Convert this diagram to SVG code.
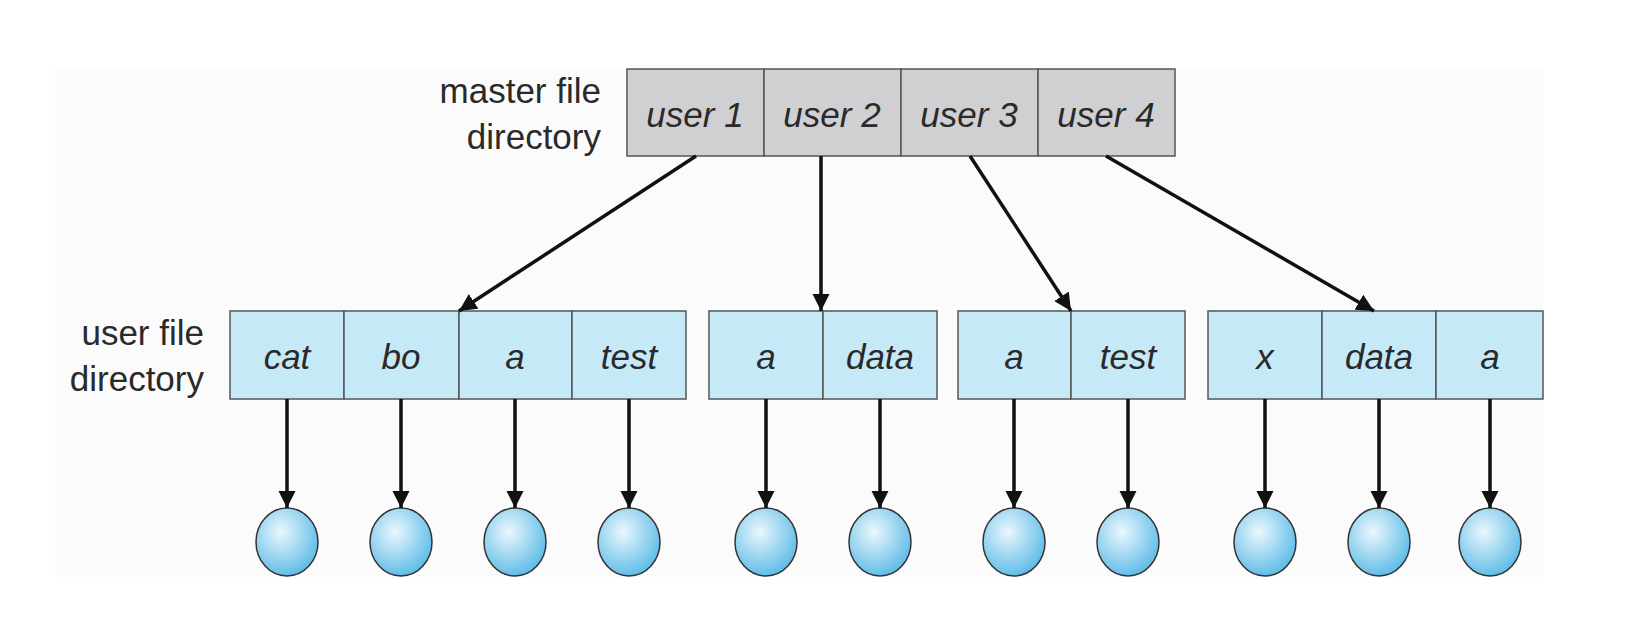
<svg xmlns="http://www.w3.org/2000/svg" width="1646" height="622" viewBox="0 0 1646 622">
<style>
.m{fill:#d0d0d2;stroke:#555;stroke-width:1.5}
.u{fill:#c6e9f8;stroke:#555;stroke-width:1.5}
.t{font-family:"Liberation Sans",Arial,sans-serif;font-size:35px;fill:#2a2a2a}
.c{text-anchor:middle;font-style:italic}
.l{text-anchor:end}
.f{fill:url(#g);stroke:#333;stroke-width:1.5}
.a{stroke:#111;stroke-width:3.5;fill:none;marker-end:url(#ah)}
</style>
<defs>
<radialGradient id="g" cx="0.4" cy="0.35" r="0.7"><stop offset="0" stop-color="#eaf7fd"/><stop offset="1" stop-color="#58b9e6"/></radialGradient>
<marker id="ah" viewBox="0 0 10 10" refX="10" refY="5" markerWidth="5" markerHeight="5" orient="auto" markerUnits="strokeWidth"><path d="M0,0 L10,5 L0,10 z" fill="#111"/></marker>
</defs>
<rect x="55" y="69" width="1488" height="508" fill="#fbfbfb"/>
<g id="labels">
<text class="t l" x="601" y="103">master file</text>
<text class="t l" x="601" y="149">directory</text>
<text class="t l" x="204" y="345">user file</text>
<text class="t l" x="204" y="391">directory</text>
</g>
<g id="master">
<rect class="m" x="627" y="69" width="137" height="87"/><text class="t c" x="695" y="127">user 1</text>
<rect class="m" x="764" y="69" width="137" height="87"/><text class="t c" x="832" y="127">user 2</text>
<rect class="m" x="901" y="69" width="137" height="87"/><text class="t c" x="969" y="127">user 3</text>
<rect class="m" x="1038" y="69" width="137" height="87"/><text class="t c" x="1106" y="127">user 4</text>
</g>
<g id="ufd1">
<rect class="u" x="230" y="311" width="114" height="88"/><text class="t c" x="287" y="369">cat</text>
<rect class="u" x="344" y="311" width="115" height="88"/><text class="t c" x="401" y="369">bo</text>
<rect class="u" x="459" y="311" width="113" height="88"/><text class="t c" x="515" y="369">a</text>
<rect class="u" x="572" y="311" width="114" height="88"/><text class="t c" x="629" y="369">test</text>
</g>
<g id="ufd2">
<rect class="u" x="709" y="311" width="114" height="88"/><text class="t c" x="766" y="369">a</text>
<rect class="u" x="823" y="311" width="114" height="88"/><text class="t c" x="880" y="369">data</text>
</g>
<g id="ufd3">
<rect class="u" x="958" y="311" width="113" height="88"/><text class="t c" x="1014" y="369">a</text>
<rect class="u" x="1071" y="311" width="114" height="88"/><text class="t c" x="1128" y="369">test</text>
</g>
<g id="ufd4">
<rect class="u" x="1208" y="311" width="114" height="88"/><text class="t c" x="1265" y="369">x</text>
<rect class="u" x="1322" y="311" width="114" height="88"/><text class="t c" x="1379" y="369">data</text>
<rect class="u" x="1436" y="311" width="107" height="88"/><text class="t c" x="1490" y="369">a</text>
</g>
<g id="files">
<ellipse class="f" cx="287" cy="542" rx="31" ry="34"/>
<ellipse class="f" cx="401" cy="542" rx="31" ry="34"/>
<ellipse class="f" cx="515" cy="542" rx="31" ry="34"/>
<ellipse class="f" cx="629" cy="542" rx="31" ry="34"/>
<ellipse class="f" cx="766" cy="542" rx="31" ry="34"/>
<ellipse class="f" cx="880" cy="542" rx="31" ry="34"/>
<ellipse class="f" cx="1014" cy="542" rx="31" ry="34"/>
<ellipse class="f" cx="1128" cy="542" rx="31" ry="34"/>
<ellipse class="f" cx="1265" cy="542" rx="31" ry="34"/>
<ellipse class="f" cx="1379" cy="542" rx="31" ry="34"/>
<ellipse class="f" cx="1490" cy="542" rx="31" ry="34"/>
</g>
<g id="connectors">
<line class="a" x1="696" y1="156" x2="459" y2="311"/>
<line class="a" x1="821" y1="156" x2="821" y2="311"/>
<line class="a" x1="970" y1="156" x2="1071" y2="311"/>
<line class="a" x1="1106" y1="156" x2="1374" y2="311"/>
<line class="a" x1="287" y1="399" x2="287" y2="508"/>
<line class="a" x1="401" y1="399" x2="401" y2="508"/>
<line class="a" x1="515" y1="399" x2="515" y2="508"/>
<line class="a" x1="629" y1="399" x2="629" y2="508"/>
<line class="a" x1="766" y1="399" x2="766" y2="508"/>
<line class="a" x1="880" y1="399" x2="880" y2="508"/>
<line class="a" x1="1014" y1="399" x2="1014" y2="508"/>
<line class="a" x1="1128" y1="399" x2="1128" y2="508"/>
<line class="a" x1="1265" y1="399" x2="1265" y2="508"/>
<line class="a" x1="1379" y1="399" x2="1379" y2="508"/>
<line class="a" x1="1490" y1="399" x2="1490" y2="508"/>
</g>
</svg>
